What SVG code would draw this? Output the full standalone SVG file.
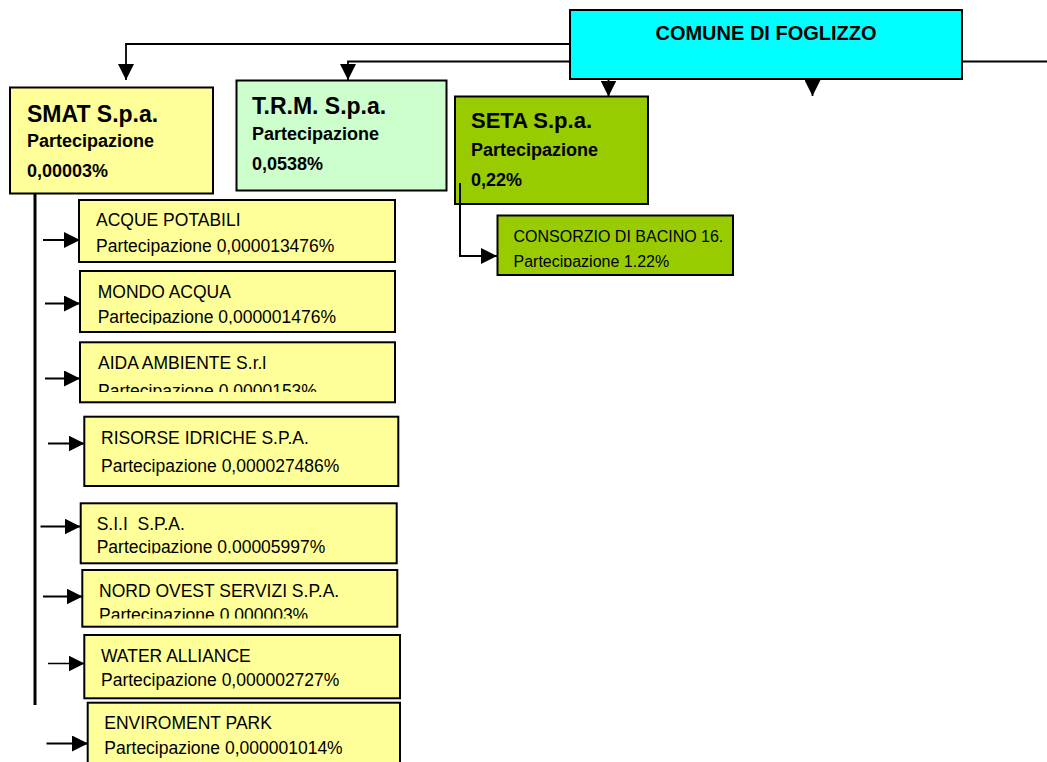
<svg xmlns="http://www.w3.org/2000/svg" width="1047" height="762" viewBox="0 0 1047 762">
<style>
.box{stroke:#000;stroke-width:2}
.y{fill:#FFFF99}
.g{fill:#CCFFCC}
.s{fill:#99CC00}
.c{fill:#00FFFF}
.conn{fill:none;stroke:#000;stroke-width:1.8}
.t{font-family:"Liberation Sans",Arial,sans-serif;fill:#000}
.h1{font-size:23px;font-weight:bold}
.h2{font-size:18px;font-weight:bold}
.h0{font-size:20px;font-weight:bold}
.n{font-size:17.5px}
.n2{font-size:16px}
</style>
<defs>
<marker id="ah" markerUnits="userSpaceOnUse" markerWidth="16" markerHeight="16" refX="15" refY="7.5" orient="auto" viewBox="0 0 15 15">
<path d="M0,0 L15,7.5 L0,15 z" fill="#000"/>
</marker>
<clipPath id="cpMondo"><rect x="80" y="271" width="316" height="53.5"/></clipPath>
<clipPath id="cpAida"><rect x="80" y="342" width="316" height="50"/></clipPath>
<clipPath id="cpSii"><rect x="80" y="503" width="317" height="50.5"/></clipPath>
<clipPath id="cpNord"><rect x="82" y="570" width="316" height="48.5"/></clipPath>
<clipPath id="cpCons"><rect x="497" y="215" width="236" height="52"/></clipPath>
</defs>

<g id="connectors">
<path class="conn" d="M570,44 H126 V80" marker-end="url(#ah)"/>
<path class="conn" d="M570,61.5 H348 V80" marker-end="url(#ah)"/>
<path class="conn" d="M962,61.5 H1047"/>
<path class="conn" d="M608.5,79 V96.5" marker-end="url(#ah)"/>
<path class="conn" d="M812.5,79 V96" marker-end="url(#ah)"/>
<path class="conn" d="M35,193 V705" style="stroke-width:3"/>
<path class="conn" d="M43,240 H80" marker-end="url(#ah)"/>
<path class="conn" d="M45,303.5 H80" marker-end="url(#ah)"/>
<path class="conn" d="M45,378.5 H80" marker-end="url(#ah)"/>
<path class="conn" d="M48,443.5 H84.5" marker-end="url(#ah)"/>
<path class="conn" d="M40.5,526.5 H80.5" marker-end="url(#ah)"/>
<path class="conn" d="M43,596.5 H82.5" marker-end="url(#ah)"/>
<path class="conn" d="M48,663.5 H84.5" marker-end="url(#ah)" style="stroke-width:1.3"/>
<path class="conn" d="M46.5,743.5 H88" marker-end="url(#ah)"/>
</g>

<g id="comune">
<rect class="box c" x="570" y="10" width="392" height="69"/>
<text class="t h0" x="766" y="40" text-anchor="middle">COMUNE DI FOGLIZZO</text>
</g>

<g id="smat">
<rect class="box y" x="10" y="87.5" width="203" height="106"/>
<text class="t h1" x="27" y="121.5">SMAT S.p.a.</text>
<text class="t h2" x="27" y="146.5">Partecipazione</text>
<text class="t h2" x="27" y="176.5">0,00003%</text>
</g>

<g id="trm">
<rect class="box g" x="236.5" y="80.5" width="210" height="110"/>
<text class="t h1" x="252" y="114">T.R.M. S.p.a.</text>
<text class="t h2" x="252" y="140">Partecipazione</text>
<text class="t h2" x="252" y="170">0,0538%</text>
</g>

<g id="seta">
<rect class="box s" x="455" y="96.5" width="193" height="107.5"/>
<text class="t h1" x="471" y="128.3" style="font-size:22px">SETA S.p.a.</text>
<text class="t h2" x="471" y="155.7">Partecipazione</text>
<text class="t h2" x="471" y="185.7">0,22%</text>
</g>
<path class="conn" d="M460,183 V256 H497" marker-end="url(#ah)" style="stroke-width:2"/>

<g id="consorzio">
<rect class="box s" x="497.5" y="215.5" width="235.5" height="59.5"/>
<g clip-path="url(#cpCons)">
<text class="t n2" x="513.5" y="241.5">CONSORZIO DI BACINO 16.</text>
<text class="t n2" x="513.5" y="266.5">Partecipazione 1.22%</text>
</g>
</g>

<g id="acque">
<rect class="box y" x="79" y="200" width="316" height="62"/>
<text class="t n" x="96" y="226">ACQUE POTABILI</text>
<text class="t n" x="96" y="252">Partecipazione 0,000013476%</text>
</g>

<g id="mondo">
<rect class="box y" x="80" y="271" width="315" height="61"/>
<g clip-path="url(#cpMondo)">
<text class="t n" x="97.7" y="297.7">MONDO ACQUA</text>
<text class="t n" x="97.7" y="322.5">Partecipazione 0,000001476%</text>
</g>
</g>

<g id="aida">
<rect class="box y" x="80" y="342.3" width="315" height="60"/>
<g clip-path="url(#cpAida)">
<text class="t n" x="98" y="369.3">AIDA AMBIENTE S.r.l</text>
<text class="t n" x="98" y="396.5">Partecipazione 0,0000153%</text>
</g>
</g>

<g id="risorse">
<rect class="box y" x="84.3" y="416.7" width="314" height="69.3"/>
<text class="t n" x="101" y="444">RISORSE IDRICHE S.P.A.</text>
<text class="t n" x="101" y="471.7">Partecipazione 0,000027486%</text>
</g>

<g id="sii">
<rect class="box y" x="80.7" y="503.3" width="316" height="60"/>
<g clip-path="url(#cpSii)">
<text class="t n" x="96.7" y="530" xml:space="preserve">S.I.I  S.P.A.</text>
<text class="t n" x="96.7" y="552.5">Partecipazione 0,00005997%</text>
</g>
</g>

<g id="nord">
<rect class="box y" x="82.3" y="570" width="315" height="56.7"/>
<g clip-path="url(#cpNord)">
<text class="t n" x="99" y="596.7">NORD OVEST SERVIZI S.P.A.</text>
<text class="t n" x="99" y="620.8">Partecipazione 0,000003%</text>
</g>
</g>

<g id="water">
<rect class="box y" x="84.3" y="635" width="315.7" height="63.3"/>
<text class="t n" x="101" y="661.7">WATER ALLIANCE</text>
<text class="t n" x="101" y="686">Partecipazione 0,000002727%</text>
</g>

<g id="enviroment">
<rect class="box y" x="87.7" y="702.7" width="312.3" height="70"/>
<text class="t n" x="104.3" y="729.3">ENVIROMENT PARK</text>
<text class="t n" x="104.3" y="754.3">Partecipazione 0,000001014%</text>
</g>
</svg>
